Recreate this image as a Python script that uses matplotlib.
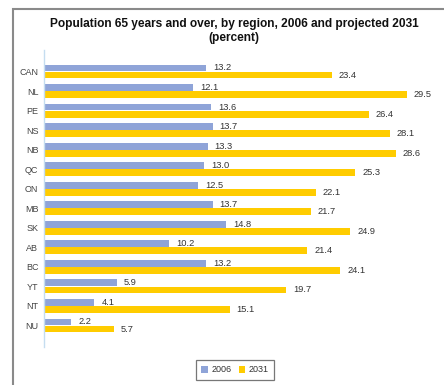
import numpy as np
import matplotlib
matplotlib.use("Agg")
import matplotlib.pyplot as plt
from matplotlib.patches import Rectangle

plt.rcParams['font.family'] = ['Liberation Sans', 'DejaVu Sans']

# --- data ---
regions = ['CAN', 'NL', 'PE', 'NS', 'NB', 'QC', 'ON', 'MB', 'SK', 'AB', 'BC', 'YT', 'NT', 'NU']
pct_2006 = [13.2, 12.1, 13.6, 13.7, 13.3, 13.0, 12.5, 13.7, 14.8, 10.2, 13.2, 5.9, 4.1, 2.2]
pct_2031 = [23.4, 29.5, 26.4, 28.1, 28.6, 25.3, 22.1, 21.7, 24.9, 21.4, 24.1, 19.7, 15.1, 5.7]
series_labels = ['2006', '2031']

W, H = 444, 385
fig = plt.figure(figsize=(W / 100, H / 100), dpi=100)
ax = fig.add_axes([44 / W, 1 - 347 / H, (W - 44) / W, 297 / H])

y = np.arange(len(regions))
h = 0.35
off = 0.18
b1 = ax.barh(y - off, pct_2006, height=h, color='#8FA4D8', label=series_labels[0])
b2 = ax.barh(y + off, pct_2031, height=h, color='#FFCC00', label=series_labels[1])

# value labels to the right of each bar
for bars, vals in ((b1, pct_2006), (b2, pct_2031)):
    for bar, v in zip(bars, vals):
        ax.annotate(f'{v:.1f}', (v, bar.get_y() + bar.get_height() / 2),
                    xytext=(7, 0), textcoords='offset pixels',
                    ha='left', va='center', fontsize=6.7, color='#333333')

ax.set_xlim(0, (W - 44) / 12.3)
ax.set_ylim(14.1, -1.1)
ax.set_yticks(y)
ax.set_yticklabels(regions, fontsize=6.5, color='#444444')
ax.tick_params(axis='y', length=0, pad=4)
ax.set_xticks([])
for s in ('top', 'right', 'bottom'):
    ax.spines[s].set_visible(False)
ax.spines['left'].set_color('#C5DDF0')
ax.spines['left'].set_linewidth(1.0)

fig.text(234 / W, 1 - 23.5 / H, 'Population 65 years and over, by region, 2006 and projected 2031',
         ha='center', va='center', fontsize=8.6, fontweight='bold', color='#111111')
fig.text(234 / W, 1 - 37.5 / H, '(percent)',
         ha='center', va='center', fontsize=8.6, fontweight='bold', color='#111111')

leg = fig.legend(handles=[b1, b2], loc='center', bbox_to_anchor=(235 / W, 1 - 370 / H),
                 ncol=2, fontsize=6.5, frameon=True, fancybox=False,
                 handlelength=0.7, handleheight=0.7, handletextpad=0.4, columnspacing=0.8,
                 borderpad=0.6)
leg.get_frame().set_edgecolor('#555555')
leg.get_frame().set_linewidth(0.9)
for t in leg.get_texts():
    t.set_color('#333333')

# outer frame
fig.patches.append(Rectangle((12.5 / W, -0.1), 1.2, 1 - 8.5 / H + 0.1,
                             transform=fig.transFigure, fill=False,
                             edgecolor='#8A8A8A', linewidth=1.5))

fig.savefig('out.png', dpi=100)
